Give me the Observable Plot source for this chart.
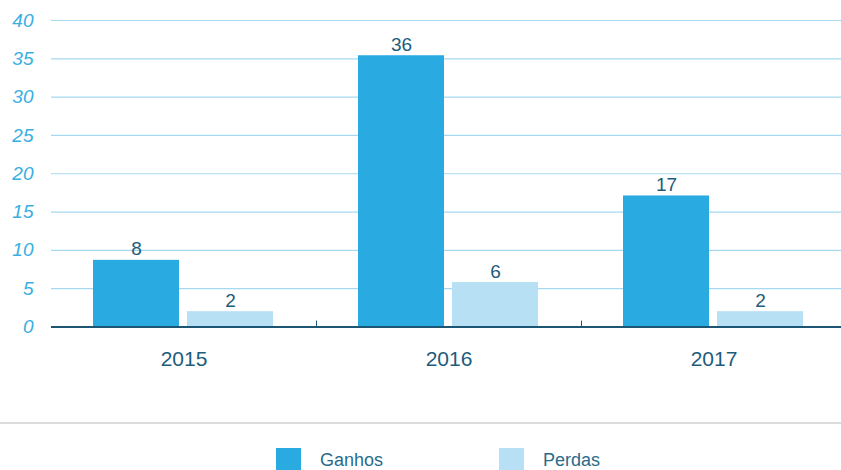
<!DOCTYPE html>
<html>
<head>
<meta charset="utf-8">
<script src="https://cdn.jsdelivr.net/npm/d3@7"></script>
<script src="https://cdn.jsdelivr.net/npm/@observablehq/plot@0.6"></script>
<style>
  body { margin: 0; background: #fff; font-family: "Liberation Sans", Arial, sans-serif; }
  #chart svg { display: block; }
  #legend { margin-top: 22px; border-top: 2px solid #dcdcdc; height: 46px; position: relative; overflow: hidden; }
  .item { position: absolute; top: 24px; display: flex; align-items: flex-start; }
  .sw { width: 25px; height: 22px; }
  .lbl { margin-left: 19px; font-size: 18px; color: #2a6b8a; line-height: 22px; margin-top: 1px; }
</style>
</head>
<body>
<div id="chart"></div>
<div id="legend"></div>
<script>
const years = ["2015", "2016", "2017"];
const series = ["Ganhos", "Perdas"];
const ganhos = [8.7, 35.4, 17.1];
const perdas = [2.0, 5.8, 2.0];
const ganhosLabels = ["8", "36", "17"];
const perdasLabels = ["2", "6", "2"];
const yTicks = [0, 5, 10, 15, 20, 25, 30, 35, 40];
const colors = ["#29abe2", "#b8e0f4"];
const separators = ["2016", "2017"];

const data = years.flatMap((yr, i) => [
  {year: yr, serie: series[0], value: ganhos[i], label: ganhosLabels[i]},
  {year: yr, serie: series[1], value: perdas[i], label: perdasLabels[i]}
]);

const font = "'Liberation Sans', Arial, sans-serif";

const chart = Plot.plot({
  width: 841,
  height: 400,
  marginLeft: 50,
  marginRight: -6,
  marginTop: 20,
  marginBottom: 73.5,
  style: {fontFamily: font, background: "white", overflow: "visible"},
  fx: {domain: years, padding: 0, label: null},
  x: {domain: series, paddingInner: 0.084, paddingOuter: 0.441, axis: null},
  y: {domain: [0, 40], label: null, axis: null},
  color: {domain: series, range: colors},
  marks: [
    Plot.gridY(yTicks.slice(1), {stroke: "#a6d9f1", strokeOpacity: 1, strokeWidth: 1.2}),
    Plot.axisY(yTicks, {tickSize: 0, tickPadding: 18, fontStyle: "italic", fill: "#3aafe2", fontSize: 19, label: null}),
    Plot.axisFx({anchor: "bottom", tickSize: 0, tickPadding: 24, fontSize: 21, fill: "#1d5c7c", label: null}),
    Plot.barY(data, {fx: "year", x: "serie", y: "value", fill: "serie"}),
    Plot.ruleY([0], {stroke: "#1d5675", strokeWidth: 2}),
    Plot.vector(separators, {
      fx: d => d,
      frameAnchor: "bottom-left",
      length: 6,
      rotate: 0,
      anchor: "start",
      stroke: "#1d5675",
      strokeWidth: 1,
      shape: {draw(ctx, l) { ctx.moveTo(0, 0); ctx.lineTo(0, -l); }}
    }),
    Plot.text(data, {fx: "year", x: "serie", y: "value", text: "label", dy: -5, lineAnchor: "bottom", fill: "#1d5c7c", fontSize: 19})
  ]
});
document.getElementById("chart").appendChild(chart);

const legend = document.getElementById("legend");
const lefts = [276, 499];
series.forEach((s, i) => {
  const item = document.createElement("div");
  item.className = "item";
  item.style.left = lefts[i] + "px";
  item.innerHTML = `<div class="sw" style="background:${colors[i]}"></div><div class="lbl">${s}</div>`;
  legend.appendChild(item);
});
</script>
</body>
</html>
